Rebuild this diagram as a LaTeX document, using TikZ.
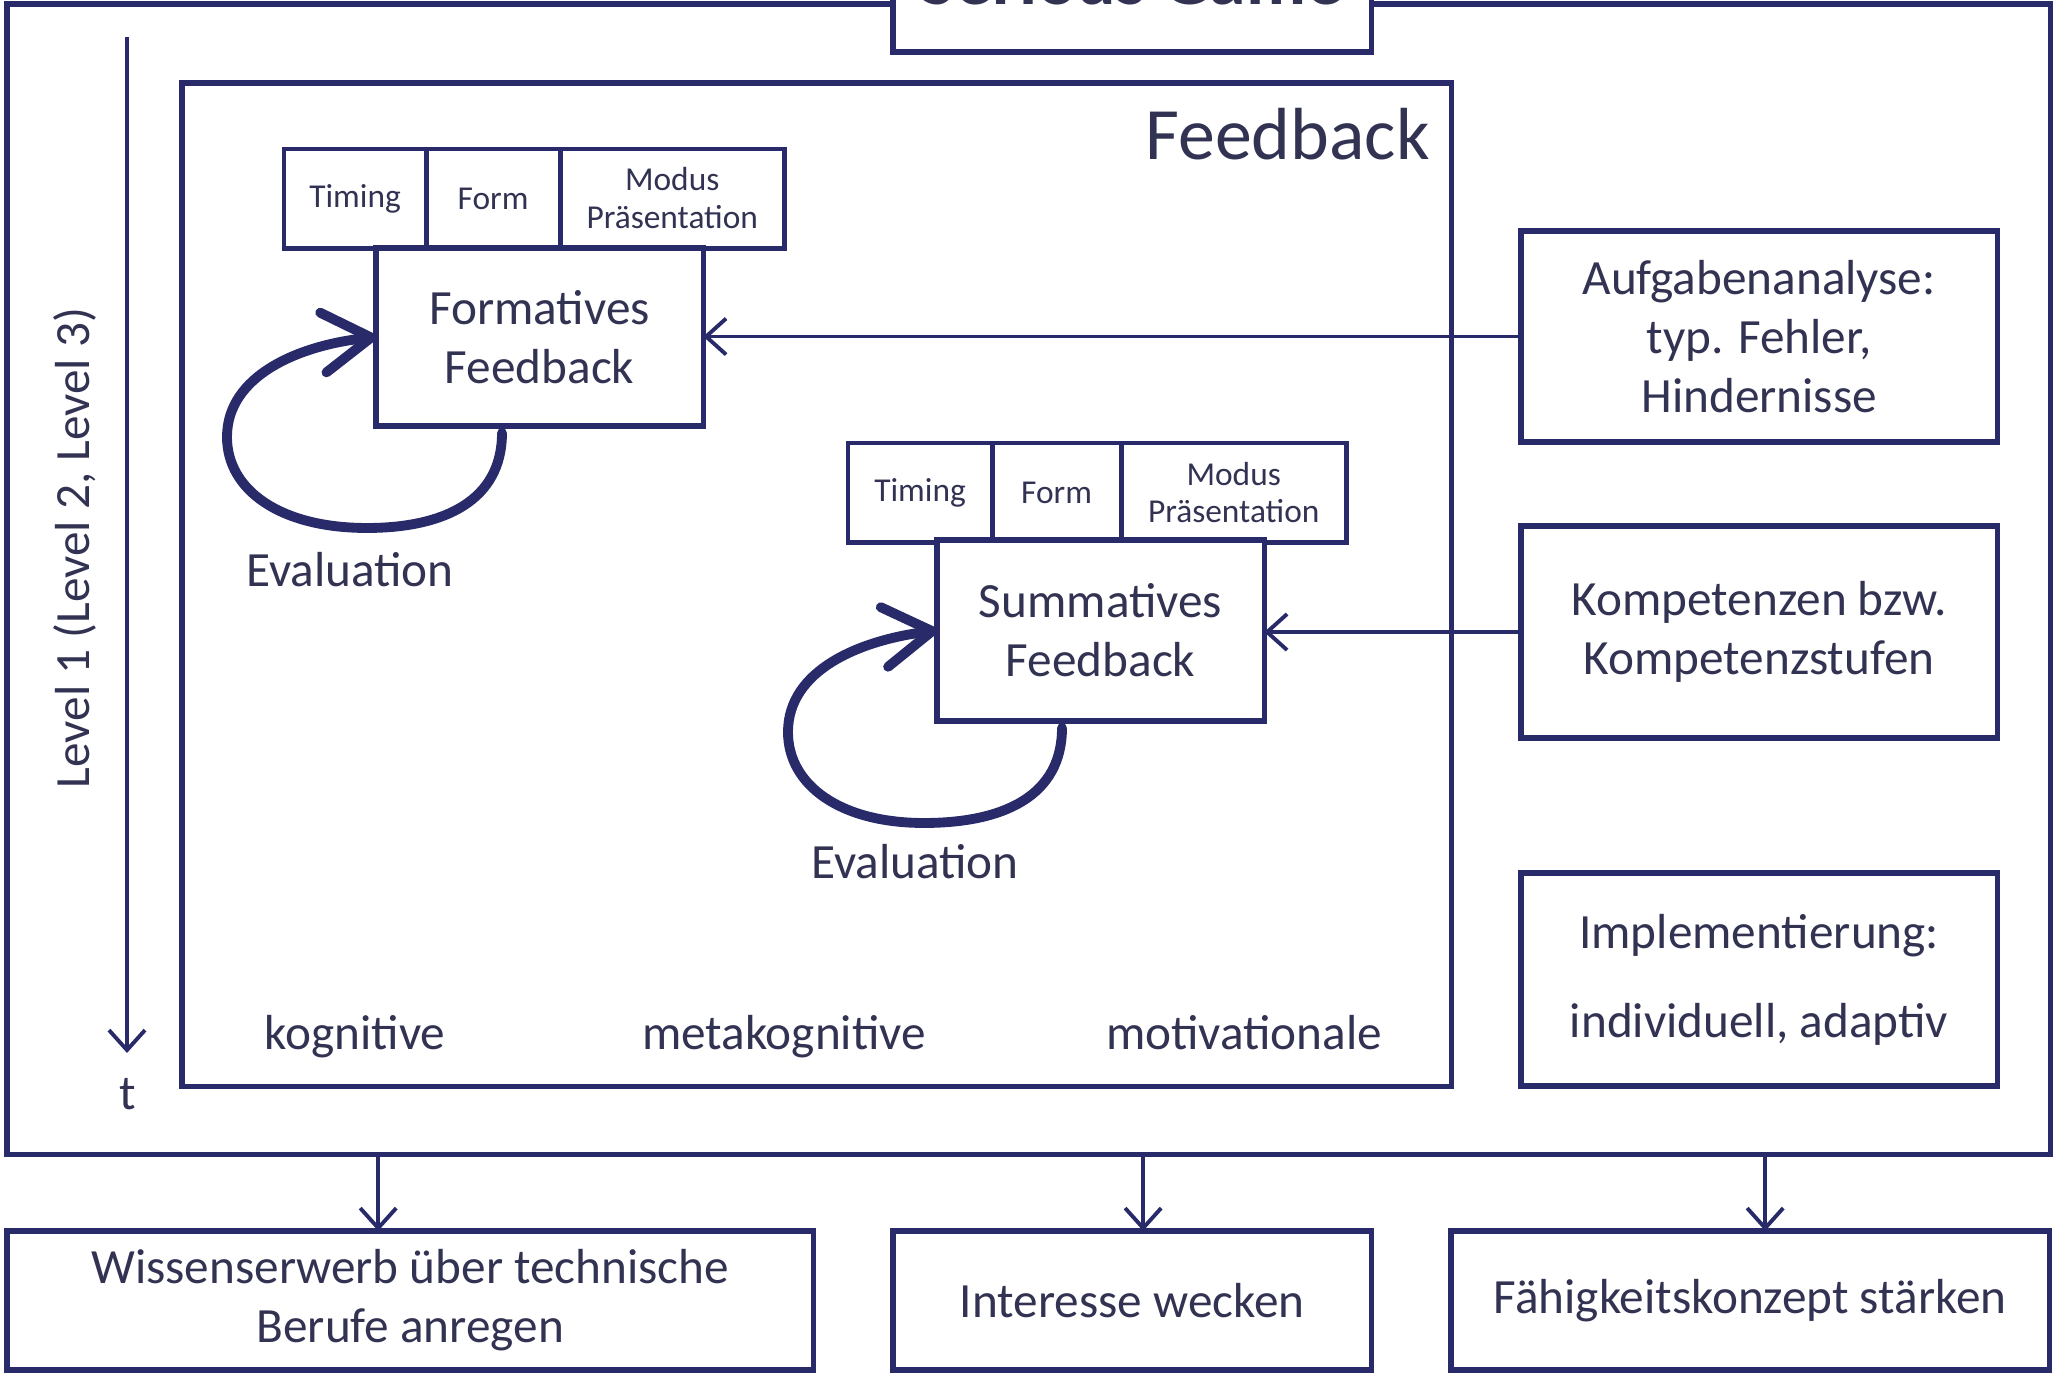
\documentclass[tikz,border=0pt]{standalone}
\usepackage{fontspec}
\setmainfont{Carlito}
\usetikzlibrary{arrows.meta}
\usetikzlibrary{positioning}
\definecolor{navy}{RGB}{40,42,105}
\definecolor{ink}{RGB}{50,50,82}

\begin{document}
\begin{tikzpicture}[x=0.01cm,y=-0.01cm,
		frame/.style={draw=navy,line width=1.5pt,outer sep=0pt,inner sep=0pt},
		box/.style={frame,fill=white,text=ink,align=center,font=\fontsize{14}{16.8}\selectfont,anchor=north west},
		attr/.style={frame,line width=1.4pt,text=ink,align=center,font=\fontsize{9.5}{10.8}\selectfont,minimum height=0.99cm,anchor=north west},
		lbl/.style={text=ink,font=\fontsize{14}{16.8}\selectfont},
		link/.style={draw=navy,line width=1.1pt,-{Straight Barb[length=2mm,width=3.6mm]}},
		evalloop/.style={draw=navy,line width=2.8pt,line cap=round,-{Straight Barb[length=4.8mm,width=6mm,round]}}]
		\useasboundingbox (0,0) rectangle (2056,1374);
		\clip (0,0) rectangle (2056,1374);

		\node [frame,minimum width=20.42cm,minimum height=11.5cm,anchor=north west] (game) at (7,4) {};
		\node [box,minimum width=4.78cm,minimum height=1.2cm,anchor=south west] (titlebox) at (893,52) {};
		\node [anchor=base,text=ink,font=\fontsize{21}{25}\selectfont\bfseries] (title) at (titlebox.south |- 0,5) {Serious Game};

		\coordinate (tstart) at (127,37);
		\coordinate (tend) at (127,1053);
		\draw [link] (tstart) -- (tend);
		\node [lbl] (t) at (128,1094) {t};
		\node [lbl,rotate=90] (level) at (75,548) {Level 1 (Level 2, Level 3)};

		\node [frame,minimum width=12.69cm,minimum height=10.03cm,anchor=north west] (fbframe) at (182,83) {};
		\node [anchor=base east,text=ink,font=\fontsize{21}{25}\selectfont] (fbtitle) at (1442,160) {Feedback};

		\node [attr,minimum width=1.42cm] (timing1) at (284,149) {Timing};
		\node [attr,minimum width=1.34cm,right=0pt of timing1] (form1) {Form};
		\node [attr,minimum width=2.24cm,right=0pt of form1] (modus1) {Modus\\Präsentation};
		\node [box,minimum width=3.27cm,minimum height=1.78cm] (formfb) at (376,248) {Formatives\\Feedback};

		\node [attr,minimum width=1.44cm] (timing2) at (848,443) {Timing};
		\node [attr,minimum width=1.29cm,right=0pt of timing2] (form2) {Form};
		\node [attr,minimum width=2.25cm,right=0pt of form2] (modus2) {Modus\\Präsentation};
		\node [box,minimum width=3.27cm,minimum height=1.81cm] (summfb) at (937,540) {Summatives\\Feedback};

		\draw [evalloop] (502,433) .. controls (502,500) and (445,528) .. (367,528)
			.. controls (280,528) and (227,490) .. (227,437)
			.. controls (227,375) and (300,345) .. (formfb.west);
		\node [lbl] (eval1) at (350,570) {Evaluation};

		\draw [evalloop] (1062,728) .. controls (1062,795) and (1005,823) .. (924,823)
			.. controls (840,823) and (788,785) .. (788,732)
			.. controls (788,670) and (860,640) .. (summfb.west);
		\node [lbl] (eval2) at (915,862) {Evaluation};

		\node [lbl,anchor=base] (kog) at (355,1050) {kognitive};
		\node [lbl,anchor=base] (meta) at (784,1050) {metakognitive};
		\node [lbl,anchor=base] (motiv) at (1244,1050) {motivationale};

		\node [box,minimum width=4.76cm,minimum height=2.11cm] (aufgabe) at (1521,231) {Aufgabenanalyse:\\typ. Fehler,\\Hindernisse};
		\node [box,minimum width=4.76cm,minimum height=2.12cm] (kompetenz) at (1521,526) {Kompetenzen bzw.\\Kompetenzstufen};
		\node [box,minimum width=4.76cm,minimum height=2.13cm] (impl) at (1521,873) {Implementierung:\\[8.5pt]individuell, adaptiv};

		\draw [link] (aufgabe.west) -- (aufgabe.west -| formfb.east);
		\draw [link] (kompetenz.west) -- (kompetenz.west -| summfb.east);

		\node [box,minimum width=8.06cm,minimum height=1.39cm] (wissen) at (7,1231) {Wissenserwerb über technische\\Berufe anregen};
		\node [box,minimum width=4.78cm,minimum height=1.39cm] (interesse) at (893,1231) {Interesse wecken};
		\node [box,minimum width=5.98cm,minimum height=1.39cm] (faehig) at (1451,1231) {Fähigkeitskonzept stärken};

		\draw [link] ([xshift=-0.32cm]wissen.north |- game.south) -- ([xshift=-0.32cm]wissen.north);
		\draw [link] ([xshift=0.11cm]interesse.north |- game.south) -- ([xshift=0.11cm]interesse.north);
		\draw [link] ([xshift=0.15cm]faehig.north |- game.south) -- ([xshift=0.15cm]faehig.north);
	\end{tikzpicture}
\end{document}
